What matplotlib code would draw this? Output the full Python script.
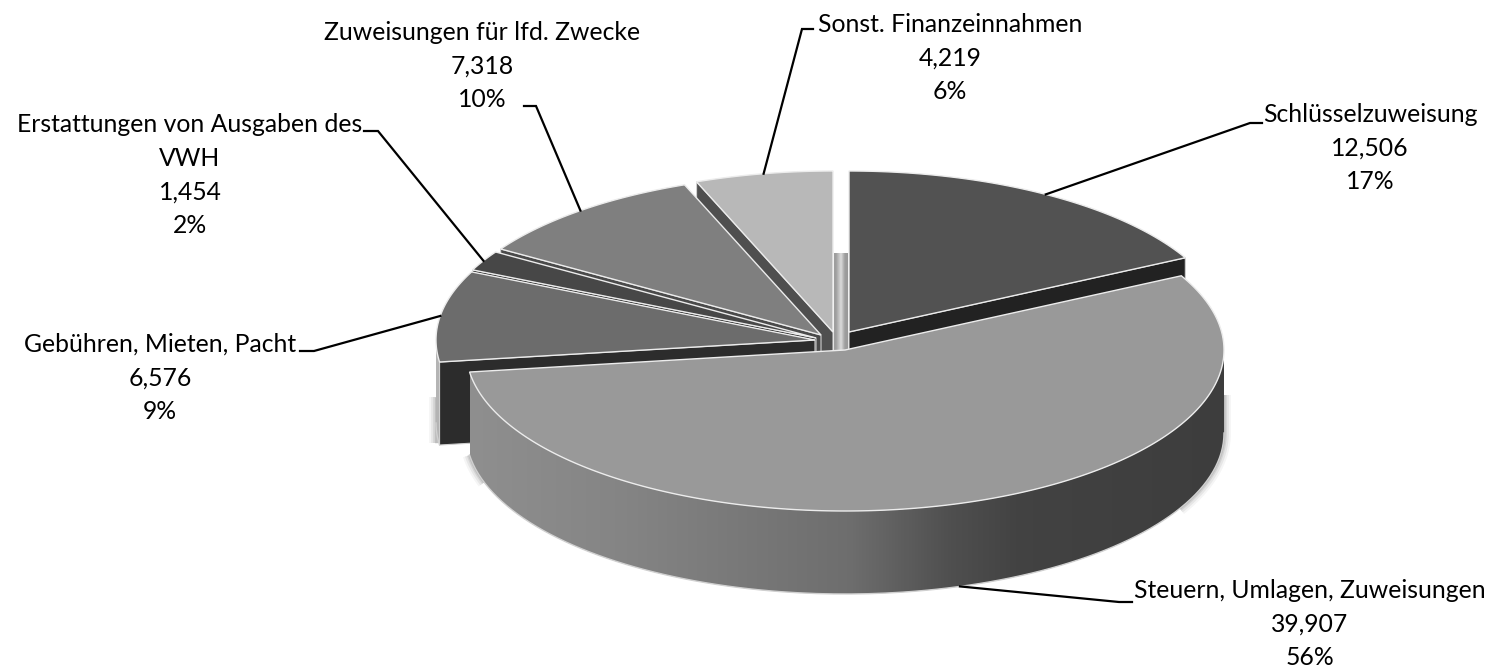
import matplotlib
matplotlib.use('Agg')
import matplotlib.pyplot as plt
from matplotlib.patches import Polygon
from matplotlib.colors import LinearSegmentedColormap
import numpy as np

# Data, clockwise from 12 o'clock
categories = ['Schlüsselzuweisung', 'Steuern, Umlagen, Zuweisungen', 'Gebühren, Mieten, Pacht',
              'Erstattungen von Ausgaben des\nVWH', 'Zuweisungen für lfd. Zwecke', 'Sonst. Finanzeinnahmen']
values = [12506, 39907, 6576, 1454, 7318, 4219]
percent_labels = ['17%', '56%', '9%', '2%', '10%', '6%']

# Styles per slice
top_colors = ['#525252', '#999999', '#6c6c6c', '#474747', '#7f7f7f', '#b8b8b8']
cut_colors = ['#222222', '#555555', '#2c2c2c', '#1f1f1f', '#4a4a4a', '#4f4f4f']
apex_x = [849, 845, 815, 816, 821, 833]
apex_y = [332, 350, 340, 338, 335, 332]
draw_order = [5, 4, 3, 2, 0, 1]

# Label layout: block centre, then leader elbow and leader end next to the text
label_x = [1370, 1310, 160, 190, 482, 950]
label_y = [148, 624, 378, 175, 66, 58]
elbow_x = [1250, 1119, 314, 378, 536, 802]
elbow_y = [123, 602, 351, 131, 106, 29]
end_x = [1262, 1132, 300, 364, 524, 813]

rx, ry, depth = 379, 161, 83

plt.rcParams['font.family'] = ['Lato', 'DejaVu Sans']

fig = plt.figure(figsize=(14.9, 6.7), dpi=100)
ax = fig.add_axes([0, 0, 1, 1])
ax.set_xlim(0, 1490)
ax.set_ylim(670, 0)
ax.axis('off')

shares = np.array(values) / sum(values)
stops = np.concatenate([[0], np.cumsum(shares)]) * 360


def rim(i, t):
    t = np.radians(t)
    return apex_x[i] + rx * np.sin(t), apex_y[i] - ry * np.cos(t)


def gradient_fill(poly, xs, greys, zorder):
    # horizontal grey ramp clipped to the polygon
    ax.add_patch(poly)
    x0, x1 = xs[0], xs[-1]
    pos = [(x - x0) / (x1 - x0) for x in xs]
    cmap = LinearSegmentedColormap.from_list('ramp', [(p, (g, g, g)) for p, g in zip(pos, greys)])
    y0, y1 = poly.get_path().vertices[:, 1].min(), poly.get_path().vertices[:, 1].max()
    im = ax.imshow(np.linspace(0, 1, 512)[None, :], cmap=cmap, extent=[x0, x1, y1, y0],
                   aspect='auto', zorder=zorder, interpolation='bilinear')
    im.set_clip_path(poly)


def side_shadow(xs, ys):
    # soft dark fringe beside a wall, the wall itself hides the inner half
    for lw, alpha in zip([10, 7, 4, 2], [0.04, 0.06, 0.08, 0.10]):
        ax.plot(xs, ys, color='black', lw=lw, alpha=alpha, solid_capstyle='butt', zorder=0.5)


# odd lighter band seen through the gap at the centre
stem = Polygon([(apex_x[5] + 1, 253), (apex_x[0] - 1, 253), (apex_x[0] - 1, 352), (apex_x[5] + 1, 352)],
               closed=True, fc='none', ec='none', zorder=1)
gradient_fill(stem, [apex_x[5] + 1, apex_x[5] + 3, apex_x[5] + 8, apex_x[0] - 4, apex_x[0] - 1],
              [0.62, 0.62, 0.86, 0.62, 0.6], 1)

z = 2
for i in draw_order:
    t0, t1 = stops[i], stops[i + 1]

    # outer wall, only the part facing the viewer
    a0, a1 = max(t0, 90), min(t1, 270)
    if a0 < a1:
        ts = np.linspace(a0, a1, 200)
        xs, ys = rim(i, ts)
        wall = np.vstack([np.column_stack([xs, ys]), np.column_stack([xs, ys + depth])[::-1]])
        if a1 - a0 > 30:
            poly = Polygon(wall, closed=True, fc='none', ec='none', zorder=z)
            gradient_fill(poly, [xs.min(), 620, 850, 950, 1020, xs.max()],
                          [0.56, 0.52, 0.43, 0.31, 0.26, 0.24], z)
            # shadow on both sides of the big wall
            ts_r = np.linspace(90, 118, 40)
            xr, yr = rim(i, ts_r)
            side_shadow(np.r_[xr[0], xr], np.r_[yr[0] + 45, yr + depth])
            ts_l = np.linspace(t1, t1 - 10, 20)
            xl, yl = rim(i, ts_l)
            side_shadow(xl, yl + depth)
        else:
            ax.add_patch(Polygon(wall, closed=True, fc='#b4b4b4', ec='none', zorder=z))
            side_shadow([xs.min(), xs.min()], [ys.max() + 35, ys.max() + depth - 2])
        lower = np.column_stack([xs, ys + depth])
        ax.plot(lower[:, 0], lower[:, 1], color='#d0d0d0', lw=1, zorder=z + 0.1)

    # radial cut faces facing the viewer
    for t, visible in [(t0, np.sin(np.radians(t0)) < -1e-6), (t1, np.sin(np.radians(t1)) > 1e-6)]:
        if visible:
            rx_pt, ry_pt = rim(i, t)
            face = [(apex_x[i], apex_y[i]), (rx_pt, ry_pt), (rx_pt, ry_pt + depth),
                    (apex_x[i], apex_y[i] + depth)]
            ax.add_patch(Polygon(face, closed=True, fc=cut_colors[i], ec='#cfcfcf', lw=0.8, zorder=z + 0.2))

    # top surface
    ts = np.linspace(t0, t1, 300)
    xs, ys = rim(i, ts)
    top = np.vstack([[apex_x[i], apex_y[i]], np.column_stack([xs, ys])])
    ax.add_patch(Polygon(top, closed=True, fc=top_colors[i], ec='#ececec', lw=1, zorder=z + 0.4))
    z += 1

# labels and leader lines
for i in range(len(values)):
    ax.text(label_x[i], label_y[i], f'{categories[i]}\n{values[i]:,}\n{percent_labels[i]}',
            ha='center', va='center', fontsize=17.8, linespacing=1.56, color='black', zorder=20)
    mid = (stops[i] + stops[i + 1]) / 2
    sx, sy = rim(i, mid)
    if 90 < mid < 270:
        sy += depth
    ax.plot([sx, elbow_x[i], end_x[i]], [sy, elbow_y[i], elbow_y[i]], color='black', lw=1.6,
            solid_joinstyle='miter', zorder=19)

fig.savefig('out.png', dpi=100)
